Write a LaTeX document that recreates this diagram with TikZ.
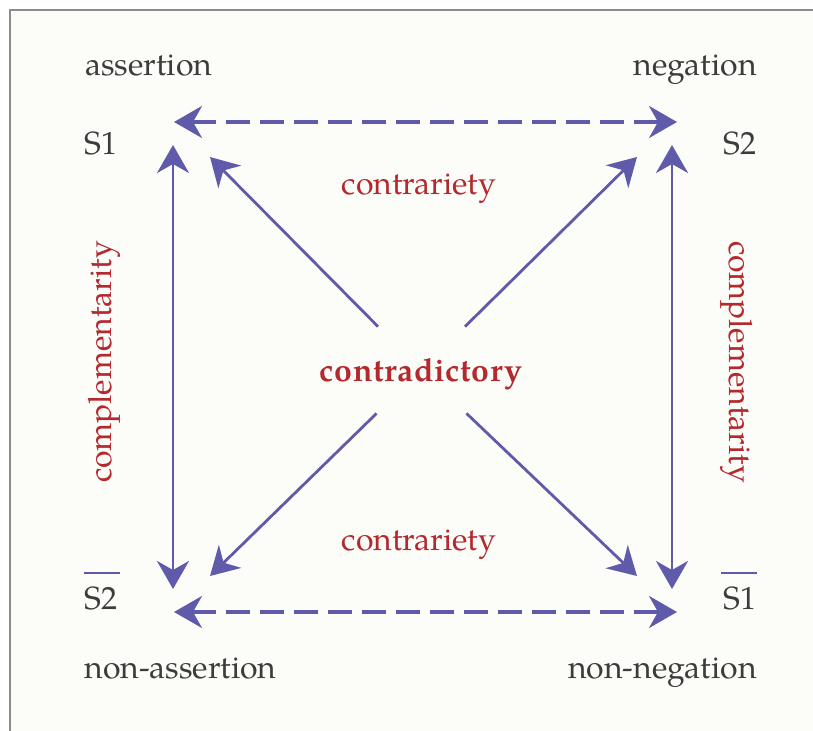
\documentclass[tikz,border=0pt]{standalone}
\usepackage{fontspec}
\setmainfont{TeX Gyre Pagella}
\usetikzlibrary{arrows.meta, positioning, calc}
\definecolor{Paper}{HTML}{FCFCF8}
\definecolor{Frame}{HTML}{8C8C8C}
\definecolor{Indigo}{HTML}{5F5BAA}
\definecolor{Brick}{HTML}{B3292E}
\definecolor{Ink}{HTML}{3C3C3C}

\begin{document}
\begin{tikzpicture}[x=0.5pt, y=-0.5pt,
    term/.style={font=\fontsize{16}{19}\selectfont, text=Ink, inner sep=0pt},
    rel/.style={font=\fontsize{16}{19}\selectfont, text=Brick, inner sep=0pt},
    hub/.style={font=\fontsize{16}{19}\selectfont\bfseries\addfontfeature{LetterSpace=2},
                text=Brick, inner sep=0pt, minimum height=43pt,
                text height=14pt, text depth=2pt},
    arr/.style={-{Stealth[length=14pt, width=16pt, inset=4.5pt]}, line width=1.4pt, draw=Indigo},
    biarr/.style={{Stealth[length=14pt, width=16pt, inset=4.5pt]}-{Stealth[length=14pt, width=16pt, inset=4.5pt]},
                  line width=1.4pt, draw=Indigo},
    dasharr/.style={biarr, line width=1.6pt, dash pattern=on 12pt off 5pt},
    bar/.style={line width=1.2pt, draw=Indigo}
  ]
    \useasboundingbox (0,0) rectangle (813,731);
    \clip (0,0) rectangle (813,731);
    \fill[Paper] (10,10) rectangle (813,731);
    \draw[Frame, line width=1pt] (10,731) -- (10,10) -- (813,10);

    % corner terms
    \node[term, anchor=base west] (ast) at (85,76) {assertion};
    \node[term, anchor=base east] (neg) at (757,76) {negation};
    \node[term, anchor=base west] (s1) at (84,155) {S1};
    \node[term, anchor=base east] (s2) at (757,155) {S2};
    \node[term, anchor=base west] (ns2) at (84,609) {S2};
    \node[term, anchor=base east] (ns1) at (757,609) {S1};
    \node[term, anchor=base west] (nast) at (84,678) {non-assertion};
    \node[term, anchor=base east] (nneg) at (757,678) {non-negation};
    \draw[bar] ([yshift=6.5pt]ns2.north west) -- ++(36,0);
    \draw[bar] ([yshift=6.5pt]ns1.north east) -- ++(-36,0);

    % relations
    \node[hub] (contra) at (421,370) {contradictory};
    \node[rel, anchor=base] (ctop) at (419,195) {contrariety};
    \node[rel, anchor=base] (cbot) at (419,550) {contrariety};
    \node[rel, rotate=90] (cleft) at (104,362) {complementarity};
    \node[rel, rotate=-90] (cright) at (737,362) {complementarity};

    % arrow ends
    \coordinate (h1) at (174,122);
    \coordinate (h2) at (677,122);
    \coordinate (h3) at (174,612);
    \coordinate (h4) at (677,612);
    \coordinate (v1) at (173,145);
    \coordinate (v2) at (173,589);
    \coordinate (v3) at (672,145);
    \coordinate (v4) at (672,589);
    \coordinate (d1) at (210,157);
    \coordinate (d2) at (637,157);
    \coordinate (d3) at (210,576);
    \coordinate (d4) at (637,576);

    \draw[dasharr] (h1) -- (h2);
    \draw[dasharr] (h3) -- (h4);
    \draw[biarr] (v1) -- (v2);
    \draw[biarr] (v3) -- (v4);
    \draw[arr] (contra) -- (d1);
    \draw[arr] (contra) -- (d2);
    \draw[arr] (contra) -- (d3);
    \draw[arr] (contra) -- (d4);
\end{tikzpicture}
\end{document}
